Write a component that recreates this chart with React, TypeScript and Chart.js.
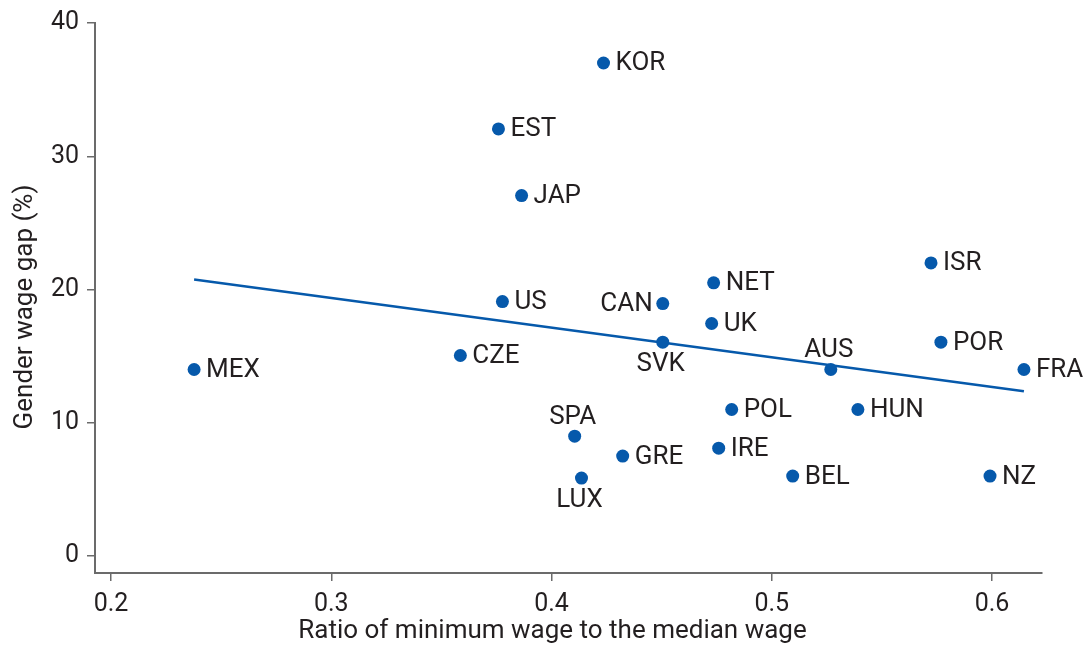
import React, { useEffect, useRef } from "react";
import { Chart, registerables } from "chart.js";

Chart.register(...registerables);

const countries = ["MEX", "CZE", "US", "EST", "JAP", "KOR", "SPA", "LUX", "GRE", "CAN", "SVK", "NET", "UK", "POL", "IRE", "BEL", "AUS", "HUN", "ISR", "POR", "NZ", "FRA"];
const minWageRatio = [0.2377, 0.3586, 0.3777, 0.3759, 0.3864, 0.4236, 0.4105, 0.4136, 0.4323, 0.4505, 0.4505, 0.4736, 0.4727, 0.4818, 0.4759, 0.5095, 0.5268, 0.5391, 0.5723, 0.5768, 0.5991, 0.6145];
const wageGap = [14.0, 15.05, 19.1, 32.05, 27.05, 37.0, 9.0, 5.85, 7.5, 18.95, 16.05, 20.5, 17.45, 11.0, 8.1, 6.0, 14.0, 11.0, 22.0, 16.05, 6.0, 14.0];
const labelPlacement = ["right", "right", "right", "right", "right", "right", "above", "below", "right", "left", "below", "right", "right", "right", "right", "right", "above", "right", "right", "right", "right", "right"];

const trendX = [0.2377, 0.6145];
const trendY = [20.75, 12.36];

const xTicks = [0.2, 0.3, 0.4, 0.5, 0.6];
const yTicks = [0, 10, 20, 30, 40];

const xTitle = "Ratio of minimum wage to the median wage";
const yTitle = "Gender wage gap (%)";

const BLUE = "#0659ab";
const TEXT = "#231f20";
const AXIS = "#6b6b6b";
const FONT = "Roboto, 'Liberation Sans', sans-serif";

const pointLabels = {
  id: "pointLabels",
  afterDatasetsDraw(chart: any) {
    const meta = chart.getDatasetMeta(0);
    const ctx = chart.ctx;
    ctx.save();
    ctx.font = `26px ${FONT}`;
    ctx.fillStyle = TEXT;
    meta.data.forEach((el: any, i: number) => {
      const { x, y } = el.getProps(["x", "y"], true);
      const place = labelPlacement[i];
      if (place === "right") {
        ctx.textAlign = "left";
        ctx.textBaseline = "middle";
        ctx.fillText(countries[i], x + 12, y + 1);
      } else if (place === "left") {
        ctx.textAlign = "right";
        ctx.textBaseline = "middle";
        ctx.fillText(countries[i], x - 10, y + 1);
      } else if (place === "above") {
        ctx.textAlign = "center";
        ctx.textBaseline = "alphabetic";
        ctx.fillText(countries[i], x - 2, y - 12);
      } else {
        ctx.textAlign = "center";
        ctx.textBaseline = "top";
        ctx.fillText(countries[i], x - 2, y + 9);
      }
    });
    ctx.restore();
  },
};

const axisTitles = {
  id: "axisTitles",
  afterDraw(chart: any) {
    const ctx = chart.ctx;
    const area = chart.chartArea;
    ctx.save();
    ctx.fillStyle = TEXT;
    ctx.font = `26px ${FONT}`;
    ctx.textAlign = "center";
    ctx.textBaseline = "alphabetic";
    ctx.fillText(xTitle, (area.left + area.right) / 2 - 16, 638);
    ctx.translate(32, (area.top + area.bottom) / 2 + 9);
    ctx.rotate(-Math.PI / 2);
    ctx.font = `26px ${FONT}`;
    ctx.fillText(yTitle, 0, 0);
    ctx.restore();
  },
};

export default function App() {
  const ref = useRef<HTMLCanvasElement | null>(null);

  useEffect(() => {
    document.body.style.margin = "0";
    const canvas = ref.current;
    if (!canvas) return;
    const chart = new Chart(canvas, {
      data: {
        datasets: [
          {
            type: "scatter",
            data: countries.map((_, i) => ({ x: minWageRatio[i], y: wageGap[i] })),
            backgroundColor: BLUE,
            borderWidth: 0,
            pointRadius: 6.5,
            order: 0,
          },
          {
            type: "line",
            data: trendX.map((x, i) => ({ x, y: trendY[i] })),
            borderColor: BLUE,
            borderWidth: 2.5,
            pointRadius: 0,
            fill: false,
            order: 1,
          },
        ],
      } as any,
      options: {
        animation: false,
        responsive: false,
        maintainAspectRatio: false,
        events: [],
        layout: { padding: { top: 22, right: 45, left: 0, bottom: 0 } },
        plugins: { legend: { display: false }, tooltip: { enabled: false } },
        scales: {
          x: {
            type: "linear",
            min: 0.1927,
            max: 0.6227,
            afterBuildTicks: (s: any) => {
              s.ticks = xTicks.map((v) => ({ value: v }));
            },
            afterFit: (s: any) => {
              s.height = 79;
            },
            grid: { drawOnChartArea: false, drawTicks: true, tickLength: 8, color: AXIS, lineWidth: 1.5 },
            border: { display: true, color: AXIS, width: 2 },
            ticks: {
              color: TEXT,
              font: { family: FONT, size: 25 },
              padding: 9,
              maxRotation: 0,
              autoSkip: false,
              callback: (v: any) => Number(v).toFixed(1),
            },
          },
          y: {
            type: "linear",
            min: -1.27,
            max: 40,
            afterBuildTicks: (s: any) => {
              s.ticks = yTicks.map((v) => ({ value: v }));
            },
            afterFit: (s: any) => {
              s.width = 95;
            },
            grid: { drawOnChartArea: false, drawTicks: true, tickLength: 8, color: AXIS, lineWidth: 1.5 },
            border: { display: true, color: AXIS, width: 2 },
            ticks: {
              color: TEXT,
              font: { family: FONT, size: 25 },
              padding: 8,
              autoSkip: false,
              callback: (v: any) => String(v),
            },
          },
        },
      } as any,
      plugins: [pointLabels, axisTitles],
    });
    return () => chart.destroy();
  }, []);

  return (
    <div style={{ width: 1087, height: 652, background: "#fff" }}>
      <canvas ref={ref} width={1087} height={652} style={{ display: "block", width: 1087, height: 652 }} />
    </div>
  );
}
